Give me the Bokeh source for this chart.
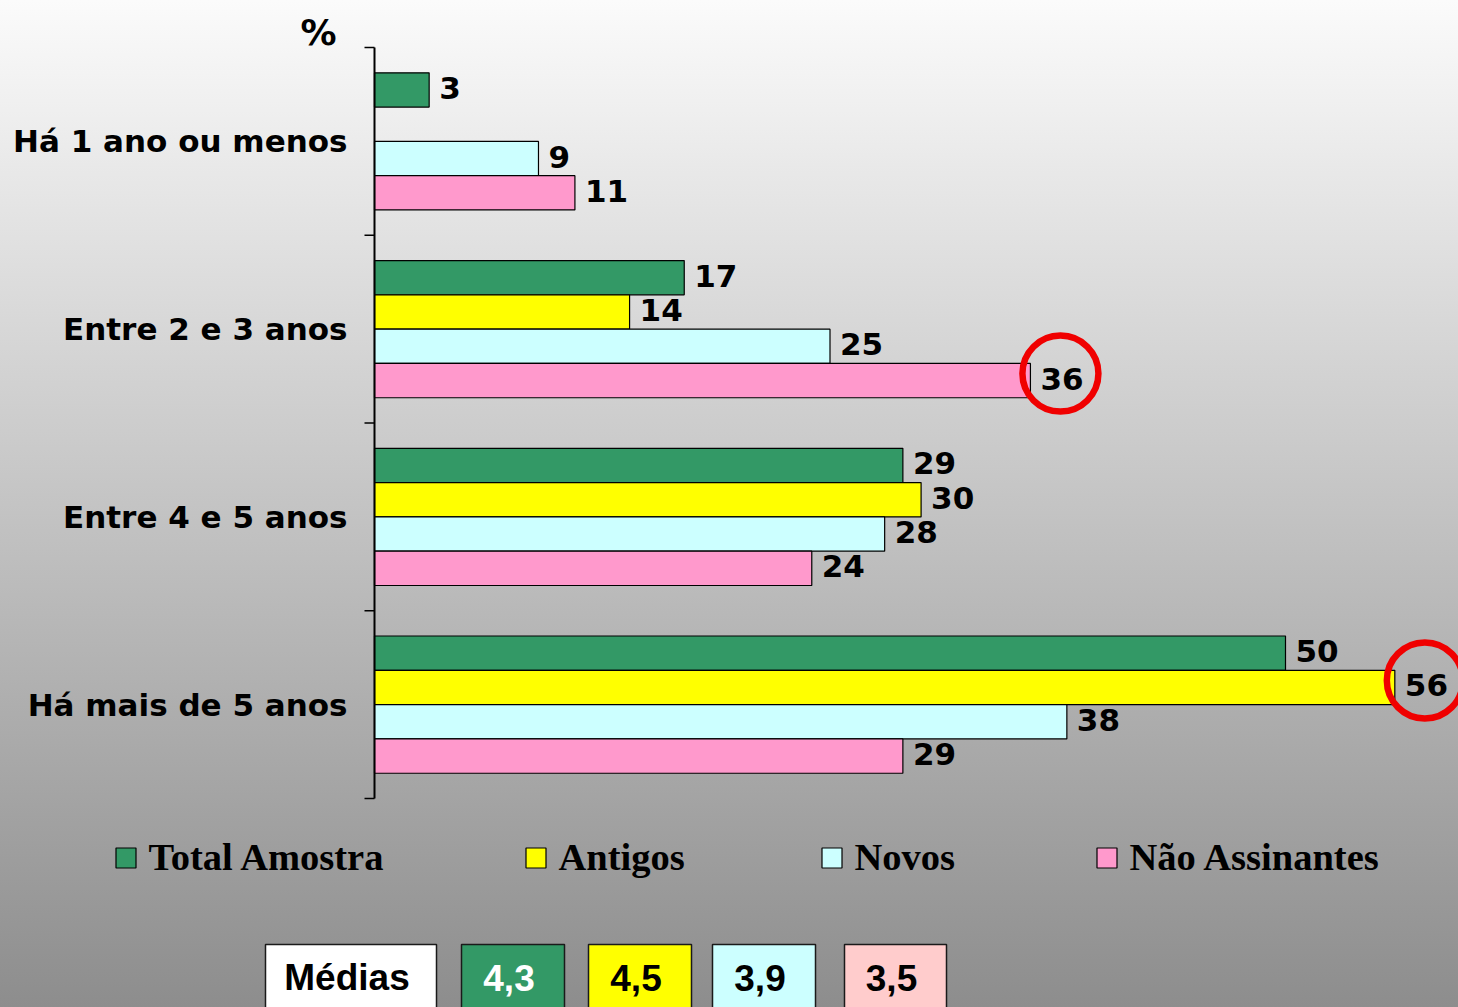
from bokeh.plotting import figure
from bokeh.models import Range1d, Legend, LegendItem, ColumnDataSource
from bokeh.core.properties import value
from bokeh.embed import file_html
from bokeh.resources import INLINE

# ---------------- data ----------------
categories = ["Há 1 ano ou menos", "Entre 2 e 3 anos", "Entre 4 e 5 anos", "Há mais de 5 anos"]
series_names = ["Total Amostra", "Antigos", "Novos", "Não Assinantes"]
total_amostra = [3, 17, 29, 50]
antigos = [None, 14, 30, 56]
novos = [9, 25, 28, 38]
nao_assinantes = [11, 36, 24, 29]
medias_label = "Médias"
medias = ["4,3", "4,5", "3,9", "3,5"]
highlights = [("Entre 2 e 3 anos", "Não Assinantes"), ("Há mais de 5 anos", "Antigos")]
unit_label = "%"

# ---------------- styles / layout ----------------
W, H = 1458, 1007
X0, XS = 374.0, 18.22      # px of value 0, px per unit
Y0, YS = 798.0, 187.75     # px (from top) of band 0, px per band
bar_colors = ["#339966", "#FFFF00", "#CCFFFF", "#FF99CC"]
media_colors = ["#339966", "#FFFF00", "#CCFFFF", "#FFCCCC"]
media_text_colors = ["white", "black", "black", "black"]
media_box_px = [(265, 436), (461, 564), (588, 691), (712, 815), (844, 946)]
legend_square_left_px = [115, 525, 821, 1096]
SANS = value("DejaVu Sans")


def px2x(px):
    return (px - X0) / XS


def px2y(py):
    return (Y0 - py) / YS


p = figure(width=W, height=H, output_backend="svg", toolbar_location=None,
           x_range=Range1d(px2x(0), px2x(W)), y_range=Range1d(px2y(H), px2y(0)),
           x_axis_location=None, y_axis_location=None, min_border=0,
           background_fill_color=None, border_fill_color=None, outline_line_color=None)
p.grid.visible = False
p.styles = {"background": "linear-gradient(to bottom, #fbfbfb 0%, #8d8d8d 100%)"}

ncat = len(categories)
bar_h = 34.3 / YS
centers = [ncat - 0.5 - i for i in range(ncat)]
all_series = [total_amostra, antigos, novos, nao_assinantes]

renderers = []
label_x, label_y, label_t = [], [], []
bar_pos = {}
for j, (name, vals, col) in enumerate(zip(series_names, all_series, bar_colors)):
    ys, rs = [], []
    for i, v in enumerate(vals):
        yy = centers[i] + (1.5 - j) * bar_h
        bar_pos[(categories[i], name)] = (v, yy)
        if v is None:
            continue
        ys.append(yy)
        rs.append(v)
        label_x.append(v)
        label_y.append(yy)
        label_t.append(str(v))
    src = ColumnDataSource(dict(y=ys, right=rs))
    r = p.hbar(y="y", left=0, right="right", height=bar_h, source=src,
               fill_color=col, line_color="black", line_width=1.2)
    renderers.append(r)

# value labels
p.text(x=label_x, y=label_y, text=label_t, x_offset=10, y_offset=-2,
       text_font=SANS, text_font_style="bold", text_font_size="31px",
       text_align="left", text_baseline="middle", text_color="black")

# highlight circles
hx, hy = [], []
for cat, ser in highlights:
    v, yy = bar_pos[(cat, ser)]
    hx.append(v + 30 / XS)
    hy.append(yy + 7 / YS)
p.scatter(x=hx, y=hy, marker="circle", size=76, fill_alpha=0,
          line_color="#f00000", line_width=6.5)

# y axis (drawn through the scales)
p.segment(x0=0, y0=0, x1=0, y1=ncat, line_color="black", line_width=2)
tick_y = list(range(ncat + 1))
p.segment(x0=[px2x(X0 - 10)] * len(tick_y), y0=tick_y, x1=[0] * len(tick_y), y1=tick_y,
          line_color="black", line_width=1.5)
p.text(x=[px2x(347)] * ncat, y=centers, text=categories,
       text_font=SANS, text_font_style="bold", text_font_size="31px",
       text_align="right", text_baseline="middle", text_color="black")
p.text(x=[px2x(318)], y=[px2y(32)], text=[unit_label],
       text_font=SANS, text_font_style="bold", text_font_size="36px",
       text_align="center", text_baseline="middle", text_color="black")

# legend (one per item, placed like the original)
for n, r, lx in zip(series_names, renderers, legend_square_left_px):
    lg = Legend(items=[LegendItem(label=n, renderers=[r])],
                orientation="horizontal", location=(lx - 2.5, 128),
                glyph_width=25, glyph_height=25, label_standoff=11,
                padding=0, margin=0, background_fill_alpha=0, border_line_alpha=0,
                label_text_font="Liberation Serif", label_text_font_style="bold",
                label_text_font_size="38.5px", label_text_color="black")
    p.add_layout(lg, "center")

# medias boxes
box_fill = ["white"] + media_colors
box_text = [medias_label] + medias
box_tcol = ["black"] + media_text_colors
p.quad(left=[px2x(a) for a, b in media_box_px], right=[px2x(b) for a, b in media_box_px],
       top=px2y(944), bottom=px2y(1020), fill_color=box_fill,
       line_color="#1a1a1a", line_width=1.5)
p.text(x=[px2x((a + b) / 2) for a, b in media_box_px], y=[px2y(977)] * len(media_box_px),
       text=box_text, text_color=box_tcol, text_font=value("Liberation Sans"),
       text_font_style="bold", text_font_size="37px", text_align="center",
       text_baseline="middle", x_offset=-4)

open("out.html", "w").write(file_html(p, INLINE))
